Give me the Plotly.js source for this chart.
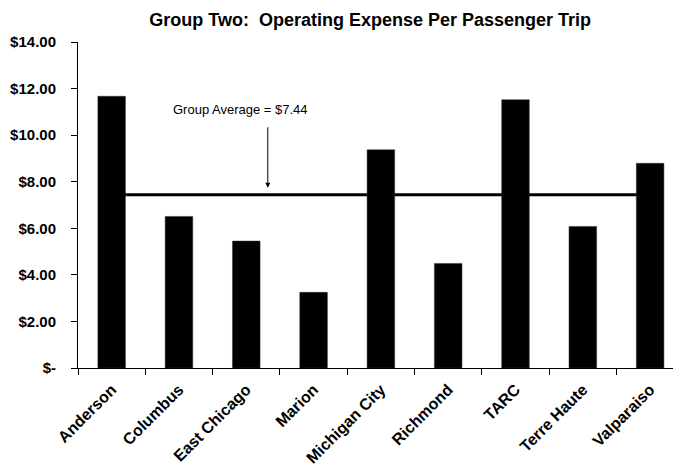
<!DOCTYPE html>
<html>
<head>
<meta charset="utf-8">
<script src="https://cdn.plot.ly/plotly-3.0.1.min.js"></script>
<style>html,body{margin:0;padding:0;background:#fff;}#chart{width:673px;height:470px;}</style>
</head>
<body>
<div id="chart"></div>
<script>
const categories = ["Anderson", "Columbus", "East Chicago", "Marion", "Michigan City", "Richmond", "TARC", "Terre Haute", "Valparaiso"];
const expensePerTrip = [11.67, 6.51, 5.45, 3.25, 9.37, 4.49, 11.52, 6.08, 8.79];
const groupAverage = 7.44;
const yTickVals = [0, 2, 4, 6, 8, 10, 12, 14];
const yTickText = ["$-", "$2.00", "$4.00", "$6.00", "$8.00", "$10.00", "$12.00", "$14.00"];
const titleText = "Group Two:  Operating Expense Per Passenger Trip";
const annotationText = "Group Average = $7.44";

const FONT = "Liberation Sans, Arial, sans-serif";

const traces = [{
  type: "bar",
  x: categories,
  y: expensePerTrip,
  marker: {color: "#000000", line: {color: "#333333", width: 0.5}},
  hoverinfo: "x+y"
}];

const layout = {
  width: 673,
  height: 470,
  paper_bgcolor: "#ffffff",
  plot_bgcolor: "#ffffff",
  margin: {l: 78, r: 0, t: 42, b: 102},
  showlegend: false,
  bargap: 0.59,
  title: {
    text: "<b>" + titleText + "</b>",
    font: {family: FONT, size: 18, color: "#000"},
    x: 0.55, xanchor: "center", xref: "container",
    y: 0.9574, yanchor: "middle", yref: "container"
  },
  xaxis: {
    type: "category",
    range: [-0.5, 8.34],
    showline: true, linecolor: "#000", linewidth: 1,
    ticks: "outside", ticklen: 6, tickcolor: "#000", tickwidth: 1,
    tickson: "boundaries",
    tickangle: -45,
    ticklabelstandoff: 5,
    tickfont: {family: FONT, size: 16, color: "#000", weight: "bold"},
    showgrid: false, zeroline: false
  },
  yaxis: {
    range: [0, 14],
    tickvals: yTickVals,
    ticktext: yTickText,
    showline: true, linecolor: "#000", linewidth: 1,
    ticks: "outside", ticklen: 6, tickcolor: "#000", tickwidth: 1,
    tickfont: {family: FONT, size: 15, color: "#000", weight: "bold"},
    ticklabelstandoff: 12,
    showgrid: false, zeroline: false
  },
  shapes: [{
    type: "line", layer: "below",
    xref: "x", yref: "y",
    x0: categories[0], x1: categories[categories.length - 1],
    y0: groupAverage, y1: groupAverage,
    line: {color: "#000", width: 3}
  }],
  annotations: [
    {
      text: annotationText,
      xref: "x", yref: "y",
      x: 1.907, y: 11.08,
      showarrow: false,
      font: {family: FONT, size: 13, color: "#000"},
      xanchor: "center", yanchor: "middle"
    },
    {
      text: "",
      xref: "x", yref: "y",
      x: 2.32, y: groupAverage + 0.3,
      showarrow: true,
      axref: "pixel", ayref: "pixel",
      ax: 0, ay: -62,
      arrowhead: 2, arrowsize: 1, arrowwidth: 1, arrowcolor: "#000"
    }
  ]
};

Plotly.newPlot("chart", traces, layout, {displayModeBar: false, staticPlot: true});
</script>
</body>
</html>
